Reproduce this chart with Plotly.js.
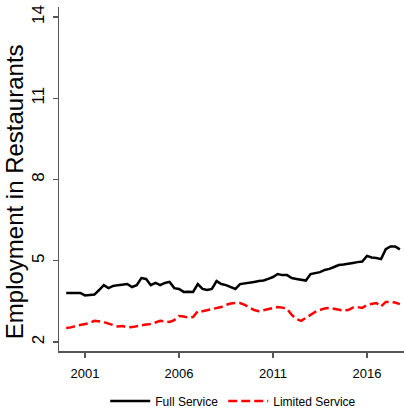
<!DOCTYPE html>
<html>
<head>
<meta charset="utf-8">
<script src="https://cdn.plot.ly/plotly-3.0.1.min.js"></script>
<style>html,body{margin:0;padding:0;background:#fff}#chart{width:404px;height:408px}</style>
</head>
<body>
<div id="chart"></div>
<script>
// Quarterly periods from 2000Q1 to 2017Q4
var quarters = [];
for (var yr = 2000; yr <= 2017; yr++) { for (var q = 0; q < 4; q++) { quarters.push(yr + q * 0.25); } }

var fullService = [
  3.81, 3.81, 3.83, 3.81, 3.72, 3.74, 3.75, 3.92,
  4.10, 3.99, 4.07, 4.10, 4.12, 4.14, 4.03, 4.10,
  4.36, 4.33, 4.10, 4.18, 4.10, 4.18, 4.22, 3.99,
  3.96, 3.85, 3.86, 3.85, 4.14, 3.96, 3.92, 3.96,
  4.25, 4.14, 4.10, 4.03, 3.96, 4.14, 4.16, 4.18,
  4.22, 4.25, 4.27, 4.33, 4.40, 4.51, 4.47, 4.47,
  4.36, 4.33, 4.31, 4.27, 4.51, 4.55, 4.58, 4.66,
  4.70, 4.77, 4.84, 4.86, 4.88, 4.92, 4.95, 4.97,
  5.18, 5.12, 5.10, 5.06, 5.43, 5.53, 5.53, 5.42
];

var limitedService = [
  2.52, 2.54, 2.59, 2.63, 2.65, 2.70, 2.78, 2.76,
  2.74, 2.68, 2.63, 2.57, 2.59, 2.54, 2.55, 2.59,
  2.61, 2.65, 2.66, 2.72, 2.78, 2.76, 2.74, 2.81,
  2.96, 2.94, 2.90, 2.92, 3.14, 3.14, 3.18, 3.22,
  3.27, 3.29, 3.37, 3.42, 3.44, 3.44, 3.37, 3.26,
  3.18, 3.14, 3.18, 3.22, 3.26, 3.29, 3.27, 3.22,
  3.00, 2.85, 2.78, 2.89, 3.00, 3.11, 3.18, 3.24,
  3.26, 3.22, 3.18, 3.16, 3.18, 3.27, 3.29, 3.26,
  3.37, 3.40, 3.44, 3.31, 3.48, 3.48, 3.46, 3.40
];

var xTicks = [2001, 2006, 2011, 2016];
var xTickLabels = ['2001', '2006', '2011', '2016'];
var yTicks = [2, 5, 8, 11, 14];
var yTickLabels = ['2', '5', '8', '11', '14'];

var traces = [
  {x: quarters, y: fullService, type: 'scatter', mode: 'lines', name: 'Full Service',
   line: {color: '#000000', width: 2.5}},
  {x: quarters, y: limitedService, type: 'scatter', mode: 'lines', name: 'Limited Service',
   line: {color: '#ff0000', width: 2.5, dash: '9px,4px'}}
];

var layout = {
  width: 404, height: 408,
  margin: {l: 59, r: 0, t: 7, b: 57, autoexpand: false},
  paper_bgcolor: '#ffffff', plot_bgcolor: '#ffffff',
  font: {family: 'Liberation Sans, Arial, sans-serif', color: '#000'},
  showlegend: true,
  legend: {orientation: 'h', x: 0.505, xanchor: 'center', y: -0.145, yanchor: 'middle',
           font: {family: 'Liberation Sans Narrow, Liberation Sans, Arial, sans-serif', size: 12, color: '#000'},
           itemwidth: 40, tracegroupgap: 0},
  xaxis: {range: [1999.617, 2017.97], tickmode: 'array', tickvals: xTicks, ticktext: xTickLabels,
          showgrid: false, zeroline: false, showline: true, linecolor: '#555555', linewidth: 1.5,
          ticks: 'outside', ticklen: 5, tickwidth: 1.2, tickcolor: '#555555', ticklabelstandoff: 5,
          tickfont: {family: 'Liberation Sans Narrow, Liberation Sans, Arial, sans-serif', size: 13, color: '#000'}},
  yaxis: {range: [1.668, 14.37], tickmode: 'array', tickvals: yTicks, ticktext: yTickLabels,
          showgrid: false, zeroline: false, showline: true, linecolor: '#555555', linewidth: 1.5,
          ticks: 'outside', ticklen: 5, tickwidth: 1.2, tickcolor: '#555555', tickangle: -90,
          ticklabelstandoff: 2,
          tickfont: {family: 'Liberation Sans, Arial, sans-serif', size: 17, color: '#000'}},
  annotations: [{text: 'Employment in Restaurants', xref: 'paper', yref: 'paper',
                 x: -0.13, y: 0.462, xanchor: 'center', yanchor: 'middle', textangle: -90, showarrow: false,
                 font: {family: 'Liberation Sans, Arial, sans-serif', size: 24, color: '#000'}}]
};

Plotly.newPlot('chart', traces, layout, {displayModeBar: false, staticPlot: true});
</script>
</body>
</html>
